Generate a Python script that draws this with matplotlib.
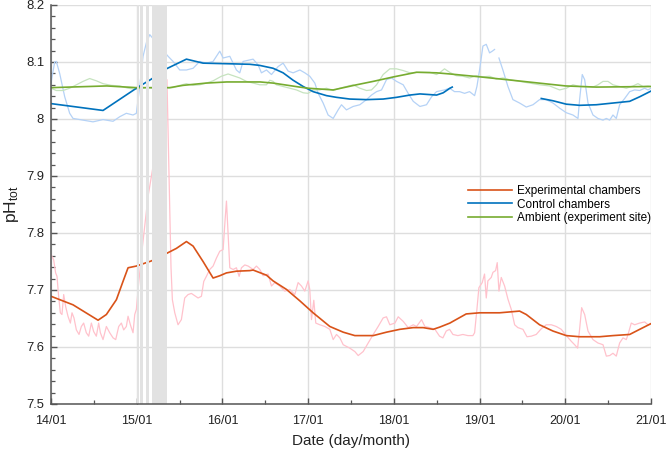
import numpy as np
import matplotlib
matplotlib.use("Agg")
import matplotlib.pyplot as plt
from matplotlib.ticker import MultipleLocator, FixedLocator, FormatStrFormatter

plt.rcParams["font.family"] = ["Liberation Sans", "DejaVu Sans"]
plt.rcParams["mathtext.fontset"] = "custom"
plt.rcParams["mathtext.rm"] = "Liberation Sans"
plt.rcParams["mathtext.it"] = "Liberation Sans"

nan = np.nan

# days after 14/01, pH values
day_labels = ["14/01", "15/01", "16/01", "17/01", "18/01", "19/01", "20/01", "21/01"]
ph_ticks = [7.5, 7.6, 7.7, 7.8, 7.9, 8.0, 8.1, 8.2]
legend_names = ["Experimental chambers", "Control chambers", "Ambient (experiment site)"]

# experimental chambers, smoothed
exp_day = [0.0, 0.257, 0.549, 0.646, 0.763, 0.840, 0.899, 0.996, 1.171, 1.346, 1.463, 1.580,
           1.658, 1.774, 1.891, 1.969, 2.047, 2.163, 2.319, 2.358, 2.514, 2.591, 2.747, 2.903,
           3.058, 3.253, 3.409, 3.545, 3.759, 3.914, 4.070, 4.226, 4.342, 4.459, 4.537, 4.654,
           4.689, 4.844, 5.0, 5.233, 5.467, 5.545, 5.700, 5.856, 6.012, 6.167, 6.401, 6.556,
           6.751, 6.868, 7.0]
exp_ph = [7.689, 7.674, 7.647, 7.657, 7.683, 7.715, 7.739, 7.742, 7.751, 7.764, 7.773, 7.785,
          7.777, 7.750, 7.721, 7.725, 7.730, 7.733, 7.734, 7.735, 7.726, 7.716, 7.701, 7.681,
          7.660, 7.636, 7.626, 7.620, 7.620, 7.626, 7.631, 7.634, 7.634, 7.631, 7.635, 7.642,
          7.645, 7.658, 7.660, 7.660, 7.663, 7.657, 7.639, 7.628, 7.620, 7.618, 7.618, 7.620,
          7.622, 7.631, 7.641]

# experimental chambers, raw
exp_raw_day = [0.0, 0.031, 0.054, 0.070, 0.089, 0.109, 0.128, 0.148, 0.171, 0.198, 0.226, 0.245,
               0.268, 0.296, 0.327, 0.354, 0.381, 0.412, 0.440, 0.471, 0.498, 0.529, 0.556, 0.576,
               0.607, 0.646, 0.685, 0.724, 0.755, 0.790, 0.821, 0.848, 0.879, 0.899, 0.926, 0.957,
               0.977, 0.996, 1.016, 1.054, 1.093, 1.132, 1.171, 1.353, 1.380, 1.400, 1.416, 1.444,
               1.482, 1.521, 1.560, 1.599, 1.638, 1.677, 1.716, 1.755, 1.782, 1.813, 1.852, 1.891,
               1.930, 1.969, 2.008, 2.031, 2.047, 2.066, 2.086, 2.125, 2.163, 2.195, 2.222, 2.261,
               2.300, 2.358, 2.397, 2.436, 2.475, 2.533, 2.572, 2.611, 2.669, 2.727, 2.786, 2.844,
               2.883, 2.922, 2.961, 3.0, 3.019, 3.039, 3.066, 3.089, 3.136, 3.195, 3.253, 3.292,
               3.331, 3.370, 3.409, 3.486, 3.545, 3.584, 3.642, 3.700, 3.759, 3.817, 3.875, 3.914,
               3.953, 4.012, 4.051, 4.109, 4.167, 4.226, 4.265, 4.323, 4.362, 4.420, 4.479, 4.533,
               4.572, 4.611, 4.650, 4.689, 4.747, 4.805, 4.864, 4.922, 4.942, 4.969, 4.992, 5.031,
               5.058, 5.078, 5.097, 5.136, 5.156, 5.187, 5.206, 5.226, 5.253, 5.292, 5.331, 5.370,
               5.409, 5.447, 5.506, 5.553, 5.603, 5.661, 5.720, 5.778, 5.837, 5.895, 5.953, 6.012,
               6.070, 6.109, 6.144, 6.167, 6.191, 6.226, 6.265, 6.323, 6.381, 6.440, 6.479, 6.518,
               6.556, 6.595, 6.634, 6.673, 6.712, 6.732, 6.770, 6.809, 6.868, 6.926, 6.965, 7.0]
exp_raw_ph = [7.762, 7.753, 7.730, 7.724, 7.689, 7.660, 7.657, 7.692, 7.671, 7.654, 7.642, 7.660,
              7.651, 7.630, 7.622, 7.636, 7.642, 7.625, 7.619, 7.642, 7.627, 7.619, 7.642, 7.625,
              7.613, 7.636, 7.625, 7.616, 7.613, 7.636, 7.642, 7.630, 7.636, 7.654, 7.639, 7.625,
              7.657, 7.666, 7.701, 7.759, 7.812, 7.864, 7.899, 8.069, 7.880, 7.740, 7.683, 7.660,
              7.639, 7.648, 7.686, 7.692, 7.694, 7.690, 7.686, 7.689, 7.715, 7.724, 7.736, 7.742,
              7.756, 7.768, 7.771, 7.823, 7.856, 7.800, 7.739, 7.736, 7.739, 7.724, 7.739, 7.744,
              7.742, 7.736, 7.742, 7.736, 7.725, 7.728, 7.707, 7.713, 7.707, 7.698, 7.701, 7.692,
              7.713, 7.707, 7.698, 7.716, 7.701, 7.648, 7.682, 7.642, 7.639, 7.636, 7.631, 7.613,
              7.622, 7.616, 7.604, 7.598, 7.592, 7.585, 7.592, 7.607, 7.622, 7.636, 7.651, 7.653,
              7.639, 7.642, 7.653, 7.645, 7.634, 7.639, 7.636, 7.648, 7.636, 7.634, 7.631, 7.619,
              7.616, 7.628, 7.631, 7.622, 7.620, 7.622, 7.620, 7.620, 7.625, 7.666, 7.704, 7.713,
              7.728, 7.686, 7.716, 7.722, 7.731, 7.734, 7.748, 7.698, 7.722, 7.707, 7.684, 7.666,
              7.639, 7.634, 7.631, 7.618, 7.619, 7.622, 7.632, 7.639, 7.639, 7.636, 7.631, 7.620,
              7.610, 7.604, 7.598, 7.631, 7.669, 7.657, 7.628, 7.613, 7.607, 7.604, 7.584, 7.585,
              7.589, 7.584, 7.607, 7.616, 7.613, 7.622, 7.642, 7.639, 7.642, 7.644, 7.639, 7.641]

# control chambers, smoothed (gap around 19/01)
ctl_day = [0.0, 0.607, 0.996, 1.171, 1.346, 1.580, 1.774, 2.319, 2.436, 2.591, 2.708, 2.825,
           2.942, 3.058, 3.214, 3.331, 3.486, 3.681, 3.875, 4.031, 4.187, 4.304, 4.498, 4.576,
           4.654, 4.681, 4.70, 5.70, 5.720, 5.856, 6.012, 6.167, 6.362, 6.556, 6.751, 6.868, 7.0]
ctl_ph = [8.027, 8.015, 8.054, 8.070, 8.088, 8.105, 8.098, 8.096, 8.094, 8.089, 8.081, 8.068,
          8.057, 8.048, 8.041, 8.038, 8.035, 8.034, 8.035, 8.038, 8.042, 8.044, 8.042, 8.046,
          8.054, 8.056, nan, nan, 8.036, 8.032, 8.026, 8.024, 8.025, 8.028, 8.031, 8.039, 8.049]

# control chambers, raw
ctl_raw_day = [0.0, 0.043, 0.062, 0.101, 0.160, 0.218, 0.257, 0.374, 0.490, 0.607, 0.724, 0.802,
               0.879, 0.957, 0.996, 1.035, 1.074, 1.113, 1.152, 1.366, 1.424, 1.502, 1.580, 1.658,
               1.735, 1.813, 1.891, 1.969, 2.008, 2.086, 2.163, 2.202, 2.241, 2.358, 2.416, 2.455,
               2.514, 2.572, 2.650, 2.708, 2.767, 2.825, 2.903, 2.961, 3.019, 3.078, 3.117, 3.175,
               3.233, 3.292, 3.350, 3.389, 3.447, 3.525, 3.603, 3.681, 3.739, 3.798, 3.856, 3.914,
               3.973, 4.031, 4.109, 4.167, 4.226, 4.304, 4.381, 4.440, 4.498, 4.591, 4.650, 4.708,
               4.767, 4.825, 4.883, 4.942, 4.969, 5.0, 5.039, 5.078, 5.117, 5.148, 5.175, 5.20,
               5.226, 5.272, 5.331, 5.389, 5.467, 5.545, 5.623, 5.700, 5.778, 5.856, 5.934, 6.012,
               6.089, 6.148, 6.167, 6.198, 6.226, 6.265, 6.323, 6.381, 6.440, 6.479, 6.518, 6.556,
               6.595, 6.634, 6.693, 6.751, 6.809, 6.868, 6.926, 6.965, 7.0]
ctl_raw_ph = [8.063, 8.100, 8.101, 8.080, 8.039, 8.010, 8.001, 7.998, 7.995, 7.999, 7.996, 8.004,
              8.010, 8.007, 8.010, 8.057, 8.110, 8.134, 8.148, 8.110, 8.101, 8.086, 8.086, 8.089,
              8.101, 8.098, 8.101, 8.119, 8.107, 8.110, 8.086, 8.081, 8.101, 8.105, 8.095, 8.081,
              8.086, 8.078, 8.092, 8.098, 8.084, 8.081, 8.086, 8.081, 8.075, 8.063, 8.045, 8.028,
              8.007, 8.001, 8.016, 8.025, 8.016, 8.022, 8.025, 8.034, 8.042, 8.048, 8.051, 8.069,
              8.072, 8.066, 8.060, 8.045, 8.031, 8.022, 8.025, 8.039, 8.048, 8.051, 8.054, 8.048,
              8.048, 8.045, 8.048, 8.041, 8.057, 8.086, 8.128, 8.131, 8.116, 8.119, 8.122, nan,
              8.107, 8.086, 8.057, 8.034, 8.028, 8.021, 8.025, 8.034, 8.034, 8.028, 8.019, 8.011,
              8.007, 8.001, 8.034, 8.078, 8.069, 8.028, 8.007, 8.001, 7.998, 8.001, 7.998, 8.007,
              8.001, 8.025, 8.036, 8.048, 8.051, 8.050, 8.054, 8.051, 8.054]

# ambient, smoothed
amb_day = [0.0, 0.65, 1.0, 1.385, 1.54, 1.81, 2.05, 2.44, 2.591, 2.9, 3.0, 3.292, 3.564, 3.759,
           4.0, 4.265, 4.498, 4.654, 5.0, 5.506, 6.004, 6.362, 7.0]
amb_ph = [8.055, 8.058, 8.055, 8.055, 8.059, 8.063, 8.065, 8.065, 8.063, 8.056, 8.054, 8.051,
          8.060, 8.066, 8.074, 8.082, 8.081, 8.079, 8.074, 8.066, 8.058, 8.056, 8.057]

# ambient, raw
amb_raw_day = [0.0, 0.062, 0.140, 0.218, 0.296, 0.374, 0.451, 0.529, 0.607, 0.704, 0.802, 0.899,
               0.996, 1.113, 1.191, 1.346, 1.424, 1.502, 1.580, 1.658, 1.735, 1.813, 1.891, 1.988,
               2.066, 2.144, 2.202, 2.280, 2.358, 2.436, 2.514, 2.553, 2.591, 2.630, 2.708, 2.786,
               2.864, 2.942, 3.0, 3.058, 3.136, 3.214, 3.292, 3.370, 3.447, 3.525, 3.603, 3.681,
               3.739, 3.798, 3.875, 3.953, 4.031, 4.109, 4.187, 4.304, 4.420, 4.498, 4.533, 4.591,
               4.650, 4.728, 4.805, 4.883, 4.961, 5.039, 5.117, 5.195, 5.272, 5.350, 5.467, 5.584,
               5.700, 5.817, 5.934, 6.012, 6.089, 6.167, 6.245, 6.323, 6.381, 6.440, 6.498, 6.556,
               6.634, 6.712, 6.790, 6.848, 6.907, 6.965, 7.0]
amb_raw_ph = [8.054, 8.050, 8.050, 8.054, 8.060, 8.066, 8.071, 8.067, 8.062, 8.059, 8.058, 8.054,
              8.052, 8.055, 8.054, 8.054, 8.055, 8.059, 8.062, 8.059, 8.060, 8.063, 8.067, 8.075,
              8.079, 8.075, 8.072, 8.066, 8.063, 8.060, 8.060, 8.068, 8.066, 8.060, 8.057, 8.054,
              8.051, 8.046, 8.045, 8.051, 8.051, 8.054, 8.050, 8.054, 8.057, 8.060, 8.054, 8.050,
              8.051, 8.060, 8.078, 8.088, 8.088, 8.085, 8.081, 8.082, 8.082, 8.078, 8.081, 8.088,
              8.082, 8.076, 8.075, 8.072, 8.076, 8.074, 8.075, 8.070, 8.072, 8.069, 8.066, 8.063,
              8.060, 8.058, 8.051, 8.054, 8.060, 8.057, 8.057, 8.056, 8.060, 8.066, 8.066, 8.060,
              8.057, 8.054, 8.058, 8.062, 8.057, 8.058, 8.057]

# grey periods (start, end) in days
gap_start = [1.003, 1.044, 1.108, 1.178]
gap_end = [1.030, 1.073, 1.147, 1.353]

fig = plt.figure(figsize=(6.66, 4.5), dpi=100)
ax = fig.add_axes([51 / 666, 46 / 450, 600 / 666, 399 / 450])

ax.plot(exp_raw_day, exp_raw_ph, color="#ffc2cc", lw=0.9, zorder=2)
ax.plot(ctl_raw_day, ctl_raw_ph, color="#b5d2f6", lw=0.9, zorder=2)
ax.plot(amb_raw_day, amb_raw_ph, color="#c6e3bf", lw=0.9, zorder=2)

ax.plot(exp_day, exp_ph, color="#d95319", lw=1.2, zorder=3, label=legend_names[0])
ax.plot(ctl_day, ctl_ph, color="#0072bd", lw=1.2, zorder=3, label=legend_names[1])
ax.plot(amb_day, amb_ph, color="#77ac30", lw=1.2, zorder=3, label=legend_names[2])

for s, e in zip(gap_start, gap_end):
    ax.axvspan(s, e, color="#e2e2e2", lw=0, zorder=4)

ax.set_xlim(0, 7)
ax.set_ylim(7.5, 8.2)
ax.xaxis.set_major_locator(FixedLocator(range(len(day_labels))))
ax.set_xticklabels(day_labels)
ax.xaxis.set_minor_locator(MultipleLocator(0.5))
ax.yaxis.set_major_locator(FixedLocator(ph_ticks))
ax.yaxis.set_major_formatter(FormatStrFormatter("%g"))
ax.yaxis.set_minor_locator(MultipleLocator(0.02))

ax.grid(True, which="major", color="#dedede", lw=1.0, zorder=0)
ax.set_axisbelow(True)
for side in ["top", "right"]:
    ax.spines[side].set_visible(False)
for side in ["left", "bottom"]:
    ax.spines[side].set_color("#555555")
    ax.spines[side].set_linewidth(1.1)
    ax.spines[side].set_zorder(6)

ax.tick_params(which="both", direction="in", colors="#555555", labelcolor="#222222")
ax.tick_params(which="major", length=4, width=1, labelsize=9.4)
ax.tick_params(which="minor", length=3, width=0.9)
ax.tick_params(axis="x", which="major", pad=8, labelsize=9)
ax.tick_params(axis="y", which="major", pad=5)

ax.set_xlabel("Date (day/month)", fontsize=11, color="#222222")
ax.set_ylabel(r"pH$_{\rm tot}$", fontsize=12.5, color="#222222")
ax.xaxis.set_label_coords(0.5, -0.074)
ax.yaxis.set_label_coords(-0.05, 0.5)

ax.legend(loc="center right", bbox_to_anchor=(1.0, 0.5), frameon=False, fontsize=8.5,
          handlelength=3.7, handletextpad=0.45, labelspacing=0.1, borderaxespad=0.0,
          borderpad=0.0)

fig.savefig("out.png", dpi=100)
